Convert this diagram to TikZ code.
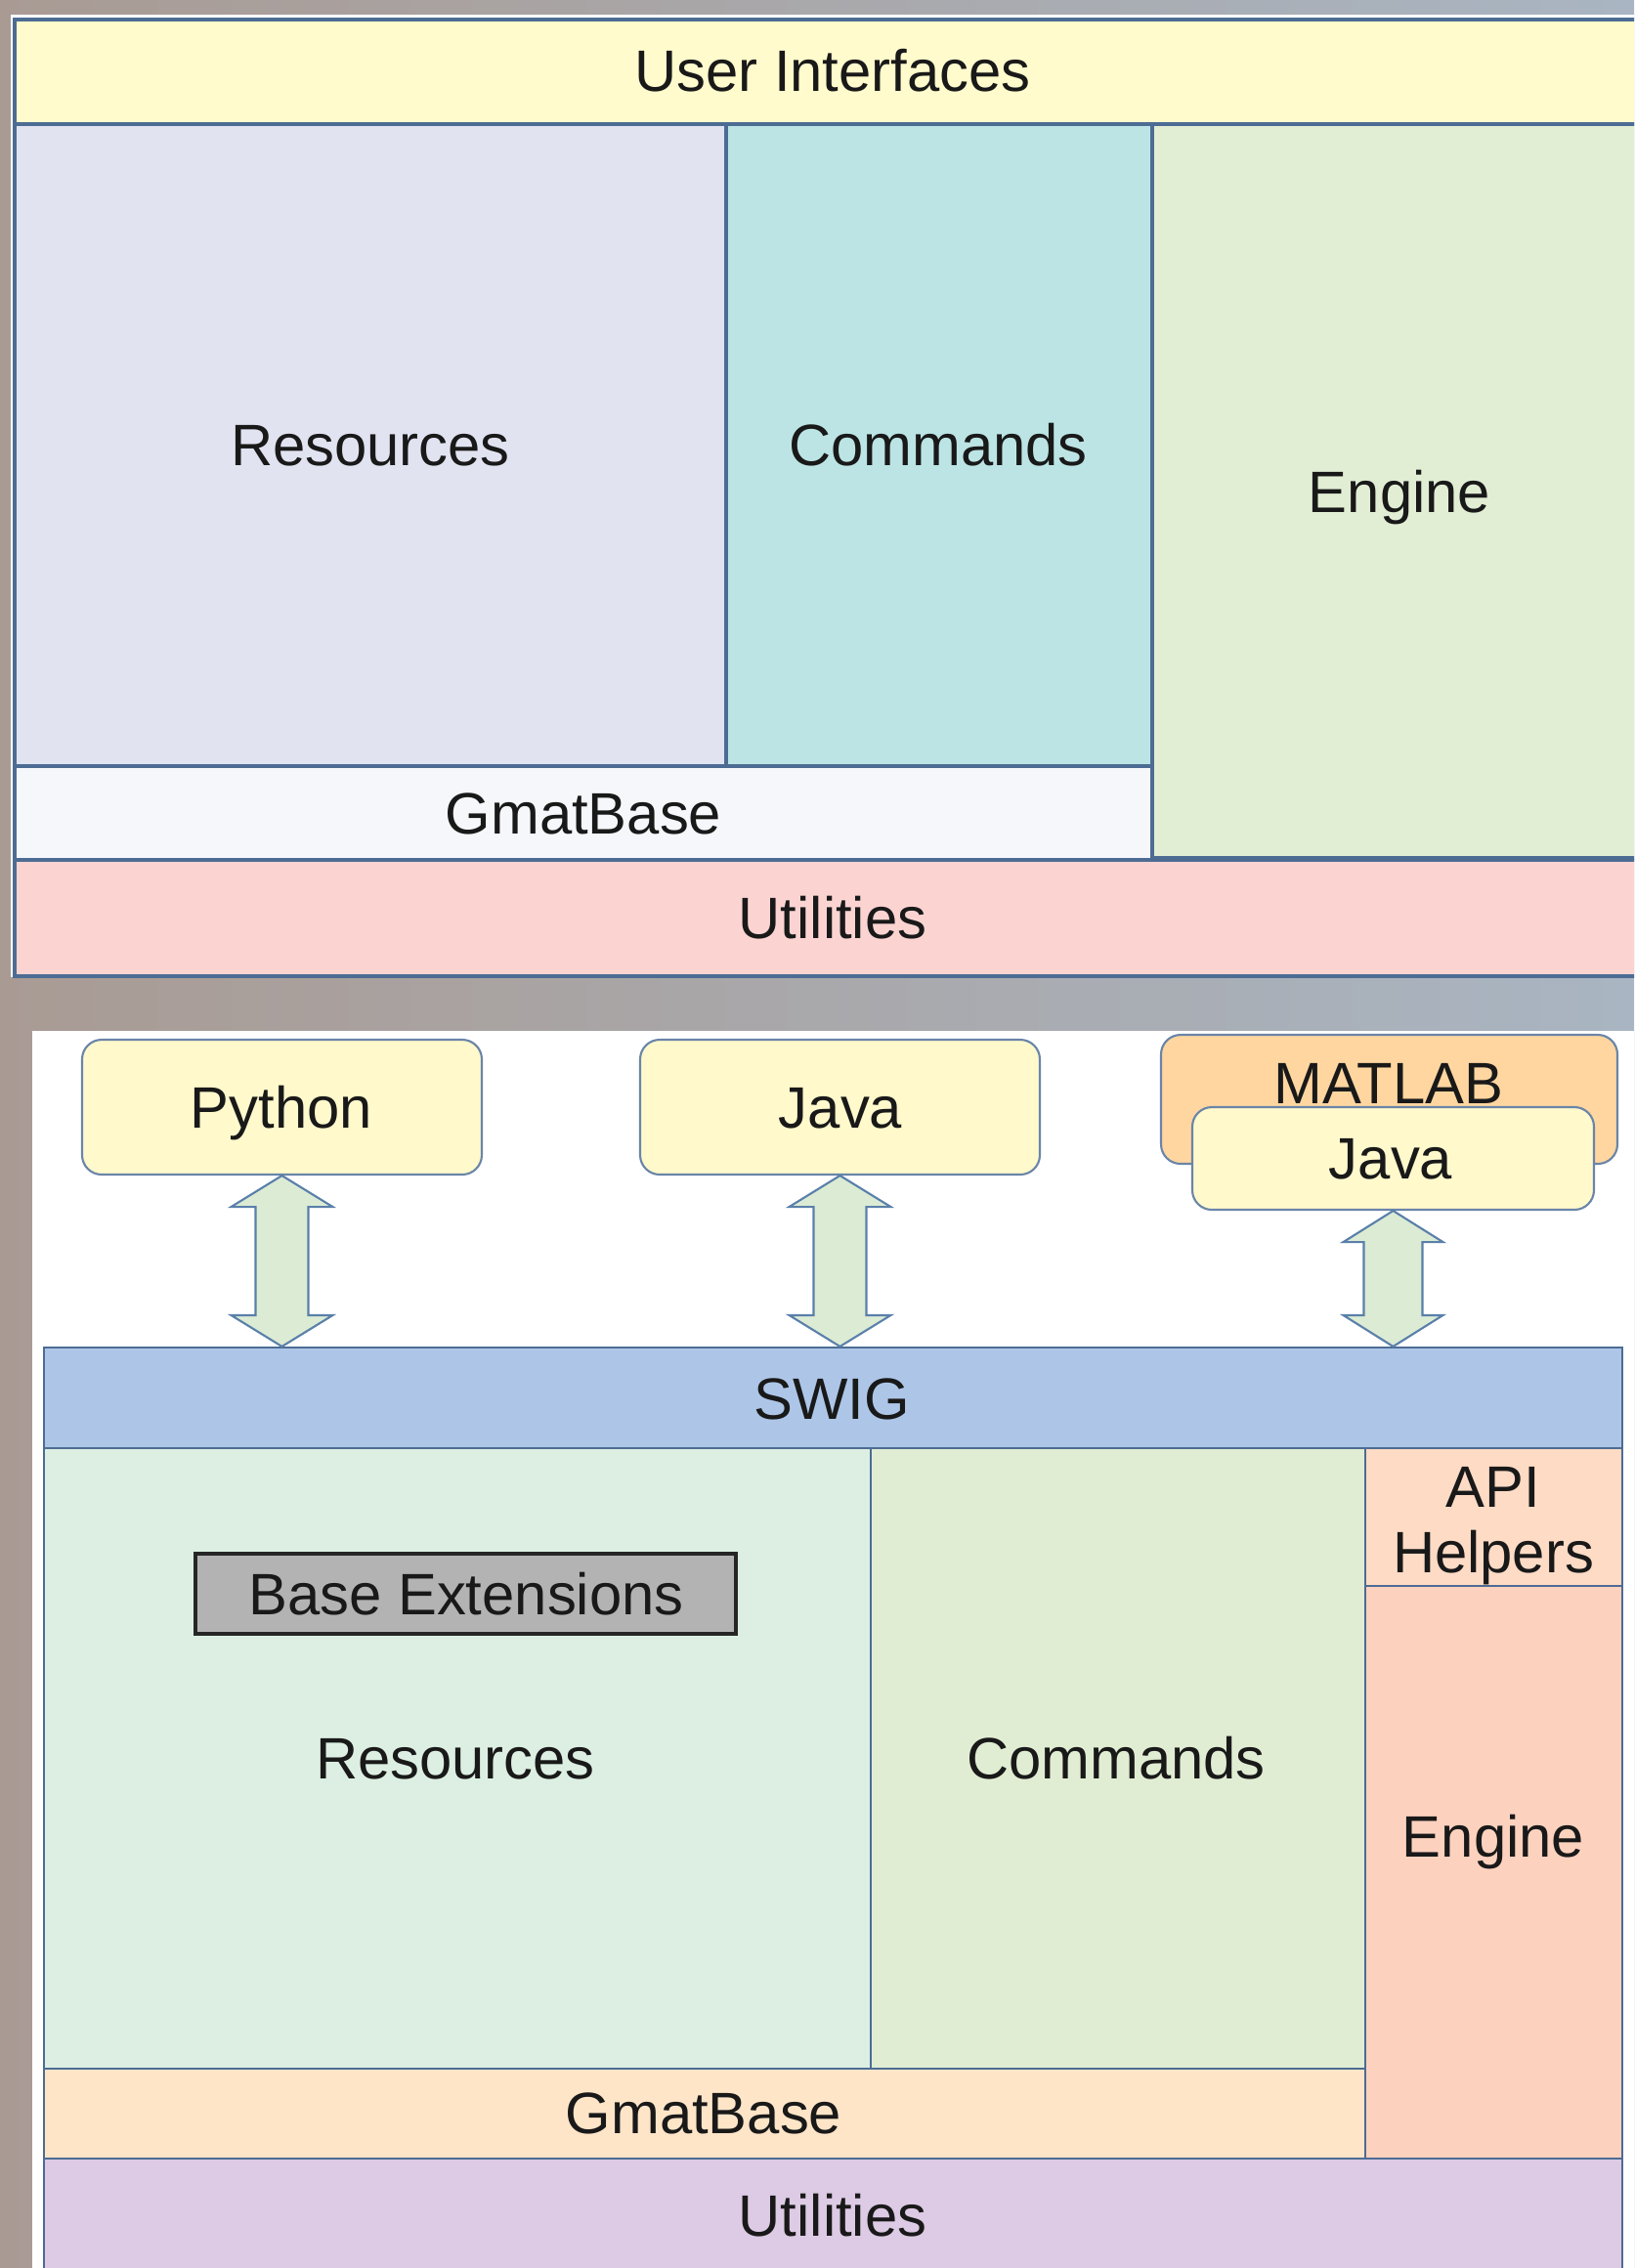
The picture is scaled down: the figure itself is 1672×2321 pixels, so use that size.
\documentclass[tikz,border=0pt]{standalone}
\usepackage{fontspec}
\setmainfont{Liberation Sans}
\usetikzlibrary{fit,calc}
\definecolor{bgL}{HTML}{A99B94}
\definecolor{bgM}{HTML}{A6A2A3}
\definecolor{bgR}{HTML}{A9B5C2}
\definecolor{lineA}{HTML}{4D6C94}
\definecolor{uiY}{HTML}{FFFBCC}
\definecolor{resA}{HTML}{E1E3F1}
\definecolor{cmdA}{HTML}{BCE4E4}
\definecolor{engA}{HTML}{E1EED4}
\definecolor{gbA}{HTML}{F5F7FA}
\definecolor{utA}{HTML}{FBD4D2}
\definecolor{boxY}{HTML}{FFF9CC}
\definecolor{boxLine}{HTML}{6A85A8}
\definecolor{mlO}{HTML}{FFD6A0}
\definecolor{arrF}{HTML}{DCEBD4}
\definecolor{arrL}{HTML}{5A80AA}
\definecolor{swigB}{HTML}{ADC6E8}
\definecolor{resB}{HTML}{DCEFE2}
\definecolor{cmdB}{HTML}{E1EDD3}
\definecolor{apiB}{HTML}{FDDBC5}
\definecolor{engB}{HTML}{FCD2BF}
\definecolor{gbB}{HTML}{FEE5C8}
\definecolor{utB}{HTML}{DDCAE4}
\definecolor{bextG}{HTML}{B3B3B3}
\newcommand\blockarrow[4]{%
  \draw[arrowst] (#1) -- ($(#1)+(#3,32)$) -- ($(#1)+(#4,32)$) -- ($(#2)+(#4,-32)$)
    -- ($(#2)+(#3,-32)$) -- (#2) -- ($(#2)+(-#3,-32)$) -- ($(#2)+(-#4,-32)$)
    -- ($(#1)+(-#4,32)$) -- ($(#1)+(-#3,32)$) -- cycle;}
\begin{document}
\begin{tikzpicture}[x=0.01cm,y=-0.01cm,
  lbl/.style={font=\fontsize{17}{19}\selectfont, text=black!90, inner sep=0pt, anchor=center, text height=12.2pt, text depth=0pt},
  cellA/.style={draw=lineA, line width=1pt, inner sep=0pt},
  cellB/.style={draw=lineA, line width=0.6pt, inner sep=0pt},
  langbox/.style={draw=boxLine, line width=0.6pt, inner sep=0pt, rounded corners=0.2cm},
  arrowst/.style={draw=arrL, fill=arrF, line width=0.6pt, line join=miter}]
\useasboundingbox (0,0) rectangle (1672,2321);
\clip (0,0) rectangle (1672,2321);
% background
\fill[left color=bgL, middle color=bgM, right color=bgR] (0,0) rectangle (1672,2321);
% ---------- top diagram ----------
\draw[white, line width=1.2pt] (13,1000) -- (13,17) -- (1700,17);
\node[cellA, fill=uiY, fit={(15,20) (1689,127)}] (ui) {};
\node[cellA, fill=resA, fit={(15,127) (743,784)}] (res1) {};
\node[cellA, fill=cmdA, fit={(743,127) (1179,784)}] (cmd1) {};
\node[cellA, fill=engA, fit={(1179,127) (1685,878)}] (eng1) {};
\node[cellA, fill=gbA, fit={(15,784) (1179,880)}] (gb1) {};
\node[cellA, fill=utA, fit={(15,880) (1689,999)}] (ut1) {};
\node[lbl] (uiT) at (852,72) {User Interfaces};
\node[lbl] (res1T) at (379,455) {Resources};
\node[lbl] (cmd1T) at (960,455) {Commands};
\node[lbl] (eng1T) at (1432,503) {Engine};
\node[lbl] (gb1T) at (597,832) {GmatBase};
\node[lbl] (ut1T) at (852,939) {Utilities};
% ---------- bottom diagram ----------
\fill[white] (33,1055) rectangle (1672,2321);
\node[langbox, fill=boxY, fit={(84,1064) (493,1202)}] (py) {};
\node[langbox, fill=boxY, fit={(655,1064) (1064,1202)}] (jv) {};
\node[langbox, fill=mlO, fit={(1188,1059) (1655,1191)}] (ml) {};
\node[langbox, fill=boxY, fit={(1220,1133) (1631,1238)}] (jv2) {};
\node[lbl] (pyT) at (288,1133) {Python};
\node[lbl] (jvT) at (860,1133) {Java};
\node[lbl] (mlT) at (1421,1108) {MATLAB};
\node[lbl] (jv2T) at (1423,1185) {Java};
\node[cellB, fill=swigB, fit={(45,1379) (1660,1482)}] (swig) {};
\node[cellB, fill=resB, fit={(45,1482) (891,2117)}] (res2) {};
\node[draw=black!85, line width=1.1pt, fill=bextG, inner sep=0pt, fit={(200,1590) (753,1672)}] (bext) {};
\node[cellB, fill=cmdB, fit={(891,1482) (1397,2117)}] (cmd2) {};
\node[cellB, fill=apiB, fit={(1397,1482) (1660,1623)}] (api) {};
\node[cellB, fill=engB, fit={(1397,1623) (1660,2209)}] (eng2) {};
\node[cellB, fill=gbB, fit={(45,2117) (1397,2209)}] (gb2) {};
\node[cellB, fill=utB, fit={(45,2209) (1660,2325)}] (ut2) {};
\node[lbl] (swigT) at (851,1431) {SWIG};
\node[lbl] (bextT) at (477,1631) {Base Extensions};
\node[lbl] (res2T) at (466,1799) {Resources};
\node[lbl] (cmd2T) at (1142,1799) {Commands};
\node[lbl] (apiT1) at (1528,1521) {API};
\node[lbl] (apiT2) at (1528,1588) {Helpers};
\node[lbl] (eng2T) at (1528,1879) {Engine};
\node[lbl] (gb2T) at (720,2162) {GmatBase};
\node[lbl] (ut2T) at (852,2267) {Utilities};
% arrows
\coordinate (a1t) at (py.south);
\coordinate (a1b) at (py.south |- swig.north);
\coordinate (a2t) at (jv.south);
\coordinate (a2b) at (jv.south |- swig.north);
\coordinate (a3t) at (jv2.south);
\coordinate (a3b) at (jv2.south |- swig.north);
\blockarrow{a1t}{a1b}{52}{27}
\blockarrow{a2t}{a2b}{52}{27}
\blockarrow{a3t}{a3b}{51}{30}
\end{tikzpicture}
\end{document}
